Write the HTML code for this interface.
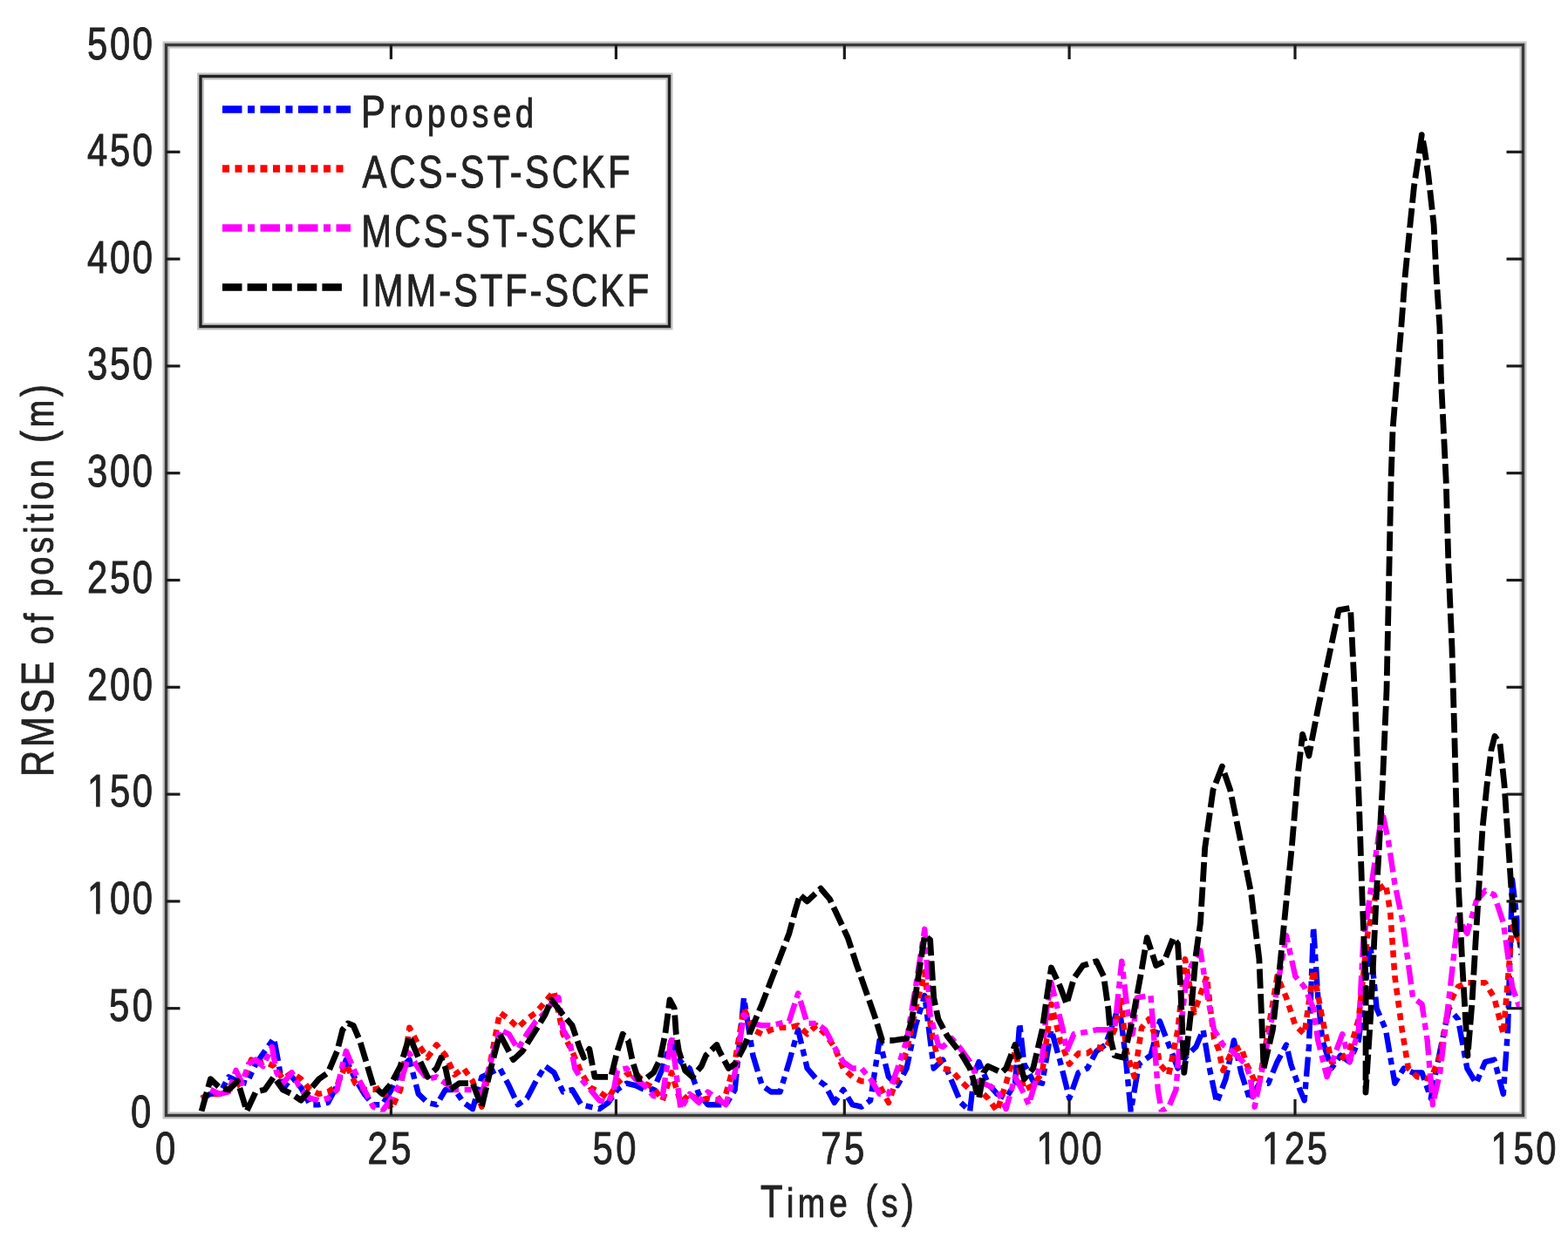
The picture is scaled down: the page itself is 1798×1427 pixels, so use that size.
<!DOCTYPE html><html><head><meta charset="utf-8"><title>RMSE of position</title><style>html,body{margin:0;padding:0;background:#fff;}svg{display:block}text{font-family:"Liberation Sans", Arial, Helvetica, sans-serif;fill:#222;stroke:#222;stroke-width:0.9px;}</style></head><body>
<svg width="1798" height="1427" viewBox="0 0 1798 1427">
<rect width="1798" height="1427" fill="#fff"/>
<defs><clipPath id="pa"><rect x="190.5" y="51.5" width="1556.0" height="1228.0"/></clipPath></defs>
<g clip-path="url(#pa)" fill="none" stroke-linejoin="round">
<polyline points="231.1,1259.9 241.4,1254.9 251.8,1254.9 262.2,1235.3 272.5,1240.2 282.9,1242.7 293.3,1220.6 303.6,1205.8 314.0,1191.1 319.2,1218.1 324.4,1250.0 334.7,1235.3 345.1,1247.6 355.5,1267.2 365.8,1267.2 376.2,1264.8 386.6,1245.1 396.9,1215.6 407.3,1237.7 417.7,1254.9 428.0,1267.2 438.4,1267.2 448.8,1250.0 459.1,1225.5 469.5,1215.6 479.8,1254.9 490.2,1264.8 500.6,1267.2 510.9,1250.0 521.3,1250.0 531.7,1264.8 542.0,1272.1 552.4,1235.3 562.8,1230.4 573.1,1225.5 583.5,1245.1 593.9,1267.2 604.2,1259.9 614.6,1240.2 625.0,1223.0 635.3,1230.4 645.7,1252.5 656.1,1250.0 666.4,1267.2 676.8,1269.7 687.2,1272.1 697.5,1264.8 707.9,1250.0 718.3,1242.7 728.6,1245.1 739.0,1250.0 749.4,1250.0 759.7,1225.5 770.1,1193.5 780.5,1218.1 790.8,1225.5 801.2,1254.9 811.6,1267.2 821.9,1267.2 832.3,1267.2 842.7,1250.0 853.0,1144.4 863.4,1210.7 873.8,1245.1 884.1,1252.5 894.5,1252.5 904.9,1218.1 915.2,1181.3 925.6,1225.5 936.0,1237.7 946.3,1245.1 956.7,1264.8 967.0,1250.0 977.4,1267.2 987.8,1269.7 998.1,1262.3 1008.5,1193.5 1018.9,1235.3 1029.2,1245.1 1039.6,1225.5 1050.0,1176.3 1060.3,1142.0 1070.7,1225.5 1081.1,1215.6 1091.4,1240.2 1101.8,1264.8 1112.2,1274.6 1117.4,1230.4 1122.5,1218.1 1132.9,1242.7 1143.3,1254.9 1153.6,1259.9 1164.0,1242.7 1169.2,1173.9 1174.4,1220.6 1184.7,1240.2 1195.1,1242.7 1205.5,1181.3 1215.8,1218.1 1226.2,1259.9 1236.6,1230.4 1246.9,1225.5 1257.3,1205.8 1267.7,1198.5 1278.0,1169.0 1283.2,1151.8 1290.5,1210.7 1296.7,1274.6 1306.0,1220.6 1319.5,1210.7 1329.9,1171.4 1340.2,1198.5 1350.6,1225.5 1361.0,1210.7 1371.3,1200.9 1379.6,1181.3 1386.9,1225.5 1395.2,1264.8 1405.5,1237.7 1414.9,1193.5 1423.2,1230.4 1433.5,1262.3 1443.9,1242.7 1454.3,1242.7 1464.6,1218.1 1475.0,1198.5 1480.2,1220.6 1490.5,1250.0 1495.7,1262.3 1500.9,1200.9 1506.1,1063.4 1511.3,1144.4 1516.4,1193.5 1526.8,1225.5 1537.2,1210.7 1547.5,1218.1 1557.9,1193.5 1571.4,1083.0 1578.6,1156.7 1589.0,1181.3 1599.4,1242.7 1609.7,1225.5 1620.1,1230.4 1630.5,1230.4 1640.8,1259.9 1651.2,1205.8 1661.6,1156.7 1671.9,1169.0 1682.3,1225.5 1692.7,1242.7 1703.0,1218.1 1713.4,1215.6 1723.8,1254.9 1729.0,1181.3 1734.1,1009.3 1744.5,1095.3" stroke="#0000ff" stroke-width="6.4" stroke-dasharray="22.5 6.5 8 6.5"/>
<polyline points="231.1,1259.9 241.4,1254.9 251.8,1254.9 262.2,1250.0 272.5,1245.1 282.9,1230.4 288.1,1215.6 293.3,1220.6 303.6,1218.1 314.0,1223.0 324.4,1237.7 334.7,1230.4 345.1,1237.7 355.5,1250.0 365.8,1254.9 376.2,1252.5 386.6,1245.1 396.9,1220.6 407.3,1242.7 417.7,1250.0 428.0,1250.0 438.4,1247.6 448.8,1272.1 459.1,1250.0 469.5,1178.8 479.8,1198.5 490.2,1213.2 500.6,1198.5 510.9,1210.7 521.3,1232.8 531.7,1225.5 542.0,1240.2 552.4,1269.7 562.8,1215.6 573.1,1161.6 583.5,1169.0 593.9,1178.8 604.2,1169.0 614.6,1161.6 625.0,1149.3 635.3,1137.1 645.7,1186.2 656.1,1205.8 666.4,1230.4 676.8,1247.6 687.2,1252.5 697.5,1259.9 707.9,1242.7 718.3,1232.8 728.6,1230.4 739.0,1242.7 749.4,1247.6 759.7,1262.3 770.1,1230.4 780.5,1264.8 790.8,1254.9 801.2,1262.3 811.6,1259.9 821.9,1262.3 832.3,1254.9 842.7,1218.1 853.0,1156.7 863.4,1181.3 873.8,1186.2 884.1,1181.3 894.5,1178.8 904.9,1178.8 915.2,1176.3 925.6,1186.2 936.0,1176.3 946.3,1186.2 956.7,1200.9 967.0,1225.5 977.4,1235.3 987.8,1240.2 998.1,1240.2 1008.5,1245.1 1018.9,1264.8 1029.2,1235.3 1039.6,1205.8 1050.0,1156.7 1060.3,1114.9 1067.6,1181.3 1073.8,1208.3 1081.1,1225.5 1091.4,1227.9 1101.8,1240.2 1112.2,1250.0 1122.5,1250.0 1132.9,1259.9 1143.3,1274.6 1153.6,1242.7 1164.0,1205.8 1174.4,1250.0 1184.7,1245.1 1195.1,1230.4 1205.5,1151.8 1215.8,1193.5 1226.2,1220.6 1236.6,1208.3 1246.9,1208.3 1257.3,1200.9 1267.7,1203.4 1278.0,1181.3 1285.3,1144.4 1291.5,1205.8 1300.8,1235.3 1309.1,1178.8 1317.4,1169.0 1324.7,1188.6 1329.9,1220.6 1340.2,1232.8 1350.6,1181.3 1358.9,1100.2 1369.3,1161.6 1383.8,1119.9 1387.9,1156.7 1392.1,1191.1 1397.2,1203.4 1402.4,1227.9 1412.8,1205.8 1423.2,1200.9 1429.4,1220.6 1438.7,1240.2 1443.9,1242.7 1454.3,1181.3 1464.6,1119.9 1475.0,1144.4 1485.3,1176.3 1495.7,1186.2 1506.1,1112.5 1516.4,1169.0 1526.8,1218.1 1537.2,1215.6 1547.5,1205.8 1557.9,1169.0 1568.3,1070.7 1578.6,1021.6 1589.0,1014.3 1594.2,1046.2 1599.4,1119.9 1607.7,1181.3 1614.9,1225.5 1625.3,1235.3 1640.8,1237.7 1651.2,1210.7 1661.6,1151.8 1671.9,1132.1 1682.3,1127.2 1692.7,1127.2 1703.0,1127.2 1713.4,1144.4 1723.8,1186.2 1734.1,1063.4 1744.5,1083.0" stroke="#ff0000" stroke-width="6.6" stroke-dasharray="8 6.5"/>
<polyline points="241.4,1250.0 251.8,1254.9 262.2,1252.5 270.5,1227.9 277.7,1242.7 285.0,1220.6 293.3,1215.6 301.6,1223.0 311.9,1200.9 317.1,1230.4 324.4,1242.7 334.7,1230.4 345.1,1250.0 355.5,1259.9 365.8,1262.3 376.2,1259.9 386.6,1250.0 391.7,1225.5 396.9,1205.8 407.3,1230.4 417.7,1250.0 428.0,1269.7 438.4,1274.6 448.8,1259.9 459.1,1242.7 469.5,1208.3 479.8,1225.5 490.2,1237.7 500.6,1235.3 510.9,1242.7 521.3,1250.0 531.7,1250.0 542.0,1250.0 552.4,1254.9 562.8,1218.1 573.1,1181.3 583.5,1186.2 593.9,1203.4 604.2,1186.2 614.6,1171.4 625.0,1161.6 635.3,1146.9 640.5,1144.4 645.7,1181.3 653.0,1193.5 659.2,1225.5 666.4,1237.7 676.8,1250.0 687.2,1262.3 697.5,1264.8 703.8,1250.0 707.9,1227.9 718.3,1225.5 728.6,1237.7 739.0,1245.1 749.4,1257.4 759.7,1257.4 770.1,1188.6 780.5,1272.1 790.8,1254.9 801.2,1264.8 811.6,1252.5 821.9,1259.9 832.3,1267.2 842.7,1230.4 853.0,1164.1 863.4,1173.9 873.8,1176.3 884.1,1176.3 894.5,1173.9 904.9,1171.4 915.2,1139.5 925.6,1173.9 936.0,1173.9 946.3,1181.3 956.7,1200.9 967.0,1218.1 977.4,1225.5 987.8,1225.5 998.1,1237.7 1008.5,1254.9 1018.9,1254.9 1029.2,1225.5 1039.6,1193.5 1050.0,1132.1 1060.3,1065.8 1066.6,1164.1 1075.9,1198.5 1081.1,1200.9 1091.4,1191.1 1101.8,1203.4 1112.2,1218.1 1122.5,1240.2 1132.9,1245.1 1143.3,1250.0 1153.6,1272.1 1164.0,1235.3 1174.4,1254.9 1179.6,1267.2 1184.7,1250.0 1195.1,1213.2 1200.3,1156.7 1205.5,1127.2 1212.7,1156.7 1218.9,1181.3 1223.1,1205.8 1231.4,1186.2 1246.9,1183.7 1257.3,1181.3 1267.7,1181.3 1278.0,1181.3 1286.3,1102.7 1292.5,1156.7 1298.8,1186.2 1303.9,1144.4 1319.5,1142.0 1322.6,1181.3 1327.8,1250.0 1331.9,1274.6 1340.2,1269.7 1348.5,1250.0 1353.7,1181.3 1359.9,1127.2 1366.1,1107.6 1376.5,1090.4 1384.8,1144.4 1392.1,1181.3 1402.4,1198.5 1412.8,1205.8 1428.3,1220.6 1433.5,1235.3 1438.7,1269.7 1449.1,1218.1 1459.4,1164.1 1464.6,1132.1 1475.0,1073.2 1485.3,1119.9 1495.7,1132.1 1506.1,1156.7 1511.3,1193.5 1521.6,1235.3 1532.0,1205.8 1539.3,1186.2 1547.5,1218.1 1557.9,1181.3 1563.1,1083.0 1573.5,1009.3 1584.9,930.7 1592.1,965.1 1599.4,1014.3 1607.7,1053.5 1613.9,1097.8 1620.1,1144.4 1630.5,1151.8 1636.7,1193.5 1642.9,1267.2 1651.2,1230.4 1661.6,1144.4 1671.9,1053.5 1682.3,1070.7 1692.7,1033.9 1703.0,1021.6 1713.4,1026.5 1723.8,1058.5 1734.1,1132.1 1744.5,1161.6" stroke="#ff00ff" stroke-width="6.4" stroke-dasharray="22.5 6.5 8 6.5"/>
<polyline points="231.1,1274.6 241.4,1237.7 251.8,1247.6 262.2,1250.0 272.5,1240.2 282.9,1274.6 293.3,1252.5 303.6,1250.0 314.0,1235.3 324.4,1250.0 334.7,1254.9 345.1,1262.3 355.5,1250.0 365.8,1237.7 376.2,1230.4 386.6,1205.8 392.8,1181.3 399.0,1173.9 405.2,1176.3 412.5,1193.5 417.7,1210.7 428.0,1245.1 438.4,1254.9 448.8,1242.7 459.1,1223.0 469.5,1188.6 479.8,1213.2 490.2,1235.3 500.6,1225.5 505.8,1213.2 510.9,1225.5 516.1,1250.0 526.5,1242.7 542.0,1242.7 552.4,1269.7 562.8,1225.5 573.1,1186.2 583.5,1205.8 588.7,1215.6 599.1,1205.8 614.6,1181.3 625.0,1164.1 632.2,1146.9 645.7,1164.1 656.1,1176.3 664.4,1200.9 669.5,1213.2 675.8,1203.4 682.0,1235.3 700.6,1235.3 707.9,1205.8 714.1,1186.2 720.3,1193.5 725.5,1218.1 731.7,1237.7 740.0,1237.7 749.4,1230.4 756.6,1215.6 762.8,1186.2 768.0,1146.9 773.2,1156.7 775.3,1186.2 778.4,1205.8 785.6,1227.9 793.9,1235.3 804.3,1223.0 809.5,1210.7 821.9,1198.5 825.0,1205.8 835.4,1225.5 842.7,1220.6 853.0,1200.9 863.4,1176.3 873.8,1151.8 884.1,1124.8 894.5,1097.8 904.9,1070.7 912.1,1043.7 917.3,1026.5 925.6,1033.9 941.1,1019.2 951.5,1031.4 961.9,1053.5 972.2,1075.7 982.6,1107.6 993.0,1137.1 1003.3,1166.5 1011.6,1193.5 1024.1,1193.5 1039.6,1191.1 1045.8,1169.0 1053.1,1119.9 1060.3,1073.2 1066.6,1078.1 1070.7,1144.4 1075.9,1169.0 1086.3,1188.6 1101.8,1208.3 1112.2,1225.5 1122.5,1259.9 1127.7,1230.4 1132.9,1223.0 1148.5,1230.4 1153.6,1225.5 1164.0,1198.5 1174.4,1237.7 1184.7,1225.5 1195.1,1181.3 1200.3,1144.4 1205.5,1110.0 1215.8,1132.1 1223.1,1151.8 1231.4,1122.3 1241.7,1107.6 1257.3,1102.7 1265.6,1119.9 1270.8,1156.7 1273.9,1193.5 1278.0,1210.7 1288.4,1213.2 1298.8,1169.0 1309.1,1112.5 1315.3,1075.7 1325.7,1107.6 1335.0,1102.7 1345.4,1075.7 1350.6,1083.0 1353.7,1132.1 1357.8,1230.4 1366.1,1156.7 1371.3,1095.3 1376.5,1058.5 1381.7,972.5 1391.0,906.2 1401.4,879.2 1410.7,906.2 1424.2,972.5 1434.6,1024.1 1443.9,1100.2 1449.1,1225.5 1459.4,1181.3 1467.7,1107.6 1475.0,1033.9 1481.2,972.5 1488.5,886.5 1493.6,842.3 1500.9,866.9 1511.3,812.9 1521.6,763.7 1535.1,699.9 1548.6,697.4 1553.8,803.0 1558.9,935.7 1562.1,1031.4 1566.2,1129.7 1566.0,1253.0 1572.0,1160.0 1578.0,1032.0 1585.0,907.0 1590.0,792.0 1593.0,650.0 1595.0,552.0 1597.0,493.0 1601.8,434.0 1606.8,375.0 1611.2,316.5 1617.0,257.6 1621.5,213.5 1626.0,184.0 1630.3,154.7 1633.2,169.4 1637.6,198.8 1644.1,257.6 1647.0,316.5 1650.9,375.3 1652.4,434.0 1655.3,493.0 1658.2,551.8 1661.0,650.0 1665.0,744.0 1668.0,850.0 1672.0,1008.0 1677.0,1110.0 1683.0,1211.0 1688.0,1150.0 1692.0,1081.0 1696.0,1016.0 1700.0,950.0 1705.0,901.0 1710.0,860.0 1714.0,844.5 1720.0,853.0 1725.0,900.0 1729.0,960.0 1733.0,1020.0 1738.0,1070.0 1747.0,1090.0" stroke="#000000" stroke-width="6.8" stroke-dasharray="22.5 6.1"/>
</g>
<rect x="190.5" y="51.5" width="1556.0" height="1228.0" fill="none" stroke="#c4c4c4" stroke-width="8"/>
<rect x="190.5" y="51.5" width="1556.0" height="1228.0" fill="none" stroke="#3a3a3a" stroke-width="3.4"/>
<line x1="448.4" y1="1279.5" x2="448.4" y2="1261.0" stroke="#1a1a1a" stroke-width="3.2"/>
<line x1="448.4" y1="51.5" x2="448.4" y2="68.0" stroke="#1a1a1a" stroke-width="3.2"/>
<line x1="706.4" y1="1279.5" x2="706.4" y2="1261.0" stroke="#1a1a1a" stroke-width="3.2"/>
<line x1="706.4" y1="51.5" x2="706.4" y2="68.0" stroke="#1a1a1a" stroke-width="3.2"/>
<line x1="968.3" y1="1279.5" x2="968.3" y2="1261.0" stroke="#1a1a1a" stroke-width="3.2"/>
<line x1="968.3" y1="51.5" x2="968.3" y2="68.0" stroke="#1a1a1a" stroke-width="3.2"/>
<line x1="1226.1" y1="1279.5" x2="1226.1" y2="1261.0" stroke="#1a1a1a" stroke-width="3.2"/>
<line x1="1226.1" y1="51.5" x2="1226.1" y2="68.0" stroke="#1a1a1a" stroke-width="3.2"/>
<line x1="1485.0" y1="1279.5" x2="1485.0" y2="1261.0" stroke="#1a1a1a" stroke-width="3.2"/>
<line x1="1485.0" y1="51.5" x2="1485.0" y2="68.0" stroke="#1a1a1a" stroke-width="3.2"/>
<line x1="190.5" y1="1156.7" x2="206.5" y2="1156.7" stroke="#1a1a1a" stroke-width="3.2"/>
<line x1="1746.5" y1="1156.7" x2="1727.5" y2="1156.7" stroke="#1a1a1a" stroke-width="3.2"/>
<line x1="190.5" y1="1033.9" x2="206.5" y2="1033.9" stroke="#1a1a1a" stroke-width="3.2"/>
<line x1="1746.5" y1="1033.9" x2="1727.5" y2="1033.9" stroke="#1a1a1a" stroke-width="3.2"/>
<line x1="190.5" y1="911.1" x2="206.5" y2="911.1" stroke="#1a1a1a" stroke-width="3.2"/>
<line x1="1746.5" y1="911.1" x2="1727.5" y2="911.1" stroke="#1a1a1a" stroke-width="3.2"/>
<line x1="190.5" y1="788.3" x2="206.5" y2="788.3" stroke="#1a1a1a" stroke-width="3.2"/>
<line x1="1746.5" y1="788.3" x2="1727.5" y2="788.3" stroke="#1a1a1a" stroke-width="3.2"/>
<line x1="190.5" y1="665.5" x2="206.5" y2="665.5" stroke="#1a1a1a" stroke-width="3.2"/>
<line x1="1746.5" y1="665.5" x2="1727.5" y2="665.5" stroke="#1a1a1a" stroke-width="3.2"/>
<line x1="190.5" y1="542.7" x2="206.5" y2="542.7" stroke="#1a1a1a" stroke-width="3.2"/>
<line x1="1746.5" y1="542.7" x2="1727.5" y2="542.7" stroke="#1a1a1a" stroke-width="3.2"/>
<line x1="190.5" y1="419.9" x2="206.5" y2="419.9" stroke="#1a1a1a" stroke-width="3.2"/>
<line x1="1746.5" y1="419.9" x2="1727.5" y2="419.9" stroke="#1a1a1a" stroke-width="3.2"/>
<line x1="190.5" y1="297.1" x2="206.5" y2="297.1" stroke="#1a1a1a" stroke-width="3.2"/>
<line x1="1746.5" y1="297.1" x2="1727.5" y2="297.1" stroke="#1a1a1a" stroke-width="3.2"/>
<line x1="190.5" y1="174.3" x2="206.5" y2="174.3" stroke="#1a1a1a" stroke-width="3.2"/>
<line x1="1746.5" y1="174.3" x2="1727.5" y2="174.3" stroke="#1a1a1a" stroke-width="3.2"/>
<text transform="translate(150.0,1293.0) scale(0.82,1)" font-size="51" textLength="30.5" lengthAdjust="spacing">0</text>
<text transform="translate(125.0,1170.5) scale(0.82,1)" font-size="51" textLength="61.0" lengthAdjust="spacing">50</text>
<text transform="translate(100.0,1047.9) scale(0.82,1)" font-size="51" textLength="91.5" lengthAdjust="spacing">100</text>
<g transform="translate(100.0,1047.9) scale(0.82,1)" fill="#fff"><rect x="1.88" y="-5.11" width="10.44" height="6.41"/><rect x="17.83" y="-5.11" width="10.54" height="6.41"/></g>
<text transform="translate(100.0,925.3) scale(0.82,1)" font-size="51" textLength="91.5" lengthAdjust="spacing">150</text>
<g transform="translate(100.0,925.3) scale(0.82,1)" fill="#fff"><rect x="1.88" y="-5.11" width="10.44" height="6.41"/><rect x="17.83" y="-5.11" width="10.54" height="6.41"/></g>
<text transform="translate(100.0,802.8) scale(0.82,1)" font-size="51" textLength="91.5" lengthAdjust="spacing">200</text>
<text transform="translate(100.0,680.2) scale(0.82,1)" font-size="51" textLength="91.5" lengthAdjust="spacing">250</text>
<text transform="translate(100.0,557.7) scale(0.82,1)" font-size="51" textLength="91.5" lengthAdjust="spacing">300</text>
<text transform="translate(100.0,435.1) scale(0.82,1)" font-size="51" textLength="91.5" lengthAdjust="spacing">350</text>
<text transform="translate(100.0,312.6) scale(0.82,1)" font-size="51" textLength="91.5" lengthAdjust="spacing">400</text>
<text transform="translate(100.0,190.0) scale(0.82,1)" font-size="51" textLength="91.5" lengthAdjust="spacing">450</text>
<text transform="translate(100.0,67.5) scale(0.82,1)" font-size="51" textLength="91.5" lengthAdjust="spacing">500</text>
<text transform="translate(178.0,1335.0) scale(0.82,1)" font-size="51" textLength="30.5" lengthAdjust="spacing">0</text>
<text transform="translate(421.4,1335.0) scale(0.82,1)" font-size="51" textLength="61.0" lengthAdjust="spacing">25</text>
<text transform="translate(679.4,1335.0) scale(0.82,1)" font-size="51" textLength="61.0" lengthAdjust="spacing">50</text>
<text transform="translate(941.3,1335.0) scale(0.82,1)" font-size="51" textLength="61.0" lengthAdjust="spacing">75</text>
<text transform="translate(1188.6,1335.0) scale(0.82,1)" font-size="51" textLength="91.5" lengthAdjust="spacing">100</text>
<g transform="translate(1188.6,1335.0) scale(0.82,1)" fill="#fff"><rect x="1.88" y="-5.11" width="10.44" height="6.41"/><rect x="17.83" y="-5.11" width="10.54" height="6.41"/></g>
<text transform="translate(1447.0,1335.0) scale(0.82,1)" font-size="51" textLength="91.5" lengthAdjust="spacing">125</text>
<g transform="translate(1447.0,1335.0) scale(0.82,1)" fill="#fff"><rect x="1.88" y="-5.11" width="10.44" height="6.41"/><rect x="17.83" y="-5.11" width="10.54" height="6.41"/></g>
<text transform="translate(1709.5,1335.0) scale(0.82,1)" font-size="51" textLength="91.5" lengthAdjust="spacing">150</text>
<g transform="translate(1709.5,1335.0) scale(0.82,1)" fill="#fff"><rect x="1.88" y="-5.11" width="10.44" height="6.41"/><rect x="17.83" y="-5.11" width="10.54" height="6.41"/></g>
<text transform="translate(872.0,1396.0) scale(0.82,1)" font-size="51" textLength="214.6" lengthAdjust="spacing">T<tspan font-size="46">ime</tspan> (<tspan font-size="46">s</tspan>)</text>
<text transform="translate(60.6,891.0) rotate(-90) scale(0.82,1)" font-size="51" textLength="548.8" lengthAdjust="spacing">RMSE <tspan font-size="46">of</tspan> <tspan font-size="46">position</tspan> (<tspan font-size="46">m</tspan>)</text>
<rect x="230" y="87.5" width="537.5" height="287" fill="#fff" stroke="#c4c4c4" stroke-width="8"/>
<rect x="230" y="87.5" width="537.5" height="287" fill="none" stroke="#222" stroke-width="3.4"/>
<line x1="255" y1="125.5" x2="402" y2="125.5" stroke="#0000ff" stroke-width="8.5" stroke-dasharray="22.5 6.5 8 6.5"/>
<line x1="255" y1="193.4" x2="396" y2="193.4" stroke="#ff0000" stroke-width="8.5" stroke-dasharray="8 6.5"/>
<line x1="255" y1="261.5" x2="402" y2="261.5" stroke="#ff00ff" stroke-width="8.5" stroke-dasharray="22.5 6.5 8 6.5"/>
<line x1="255" y1="329.6" x2="396" y2="329.6" stroke="#000000" stroke-width="8.5" stroke-dasharray="22.5 6.1"/>
<text transform="translate(414.0,146.0) scale(0.82,1)" font-size="51" textLength="241.5" lengthAdjust="spacing">P<tspan font-size="46">roposed</tspan></text>
<text transform="translate(415.5,214.9) scale(0.82,1)" font-size="51" textLength="374.4" lengthAdjust="spacing">ACS-ST-SCKF</text>
<text transform="translate(414.3,282.5) scale(0.82,1)" font-size="51" textLength="384.6" lengthAdjust="spacing">MCS-ST-SCKF</text>
<text transform="translate(413.3,350.6) scale(0.82,1)" font-size="51" textLength="403.7" lengthAdjust="spacing">IMM-STF-SCKF</text>
</svg></body></html>
